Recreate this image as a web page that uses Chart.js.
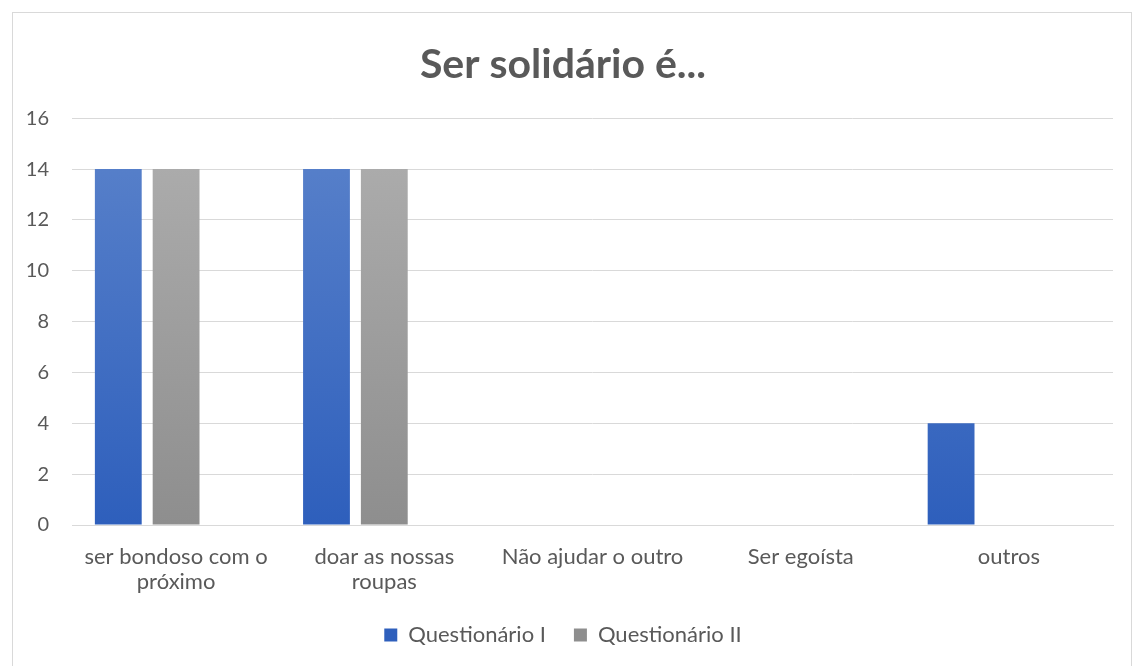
<!DOCTYPE html>
<html>
<head>
<meta charset="utf-8">
<script src="https://cdn.jsdelivr.net/npm/chart.js@4.4.1/dist/chart.umd.min.js"></script>
<style>
  html, body { margin: 0; padding: 0; background: #fff; }
  #wrap {
    position: absolute; left: 12px; top: 12px;
    width: 1118px; height: 660px;
    border: 1px solid #d9d9d9;
  }
</style>
</head>
<body>
<div id="wrap"><canvas id="myChart"></canvas></div>
<script>
var categories = [['ser bondoso com o', 'próximo'], ['doar as nossas', 'roupas'], 'Não ajudar o outro', 'Ser egoísta', 'outros'];
var questionario1 = [14, 14, 0, 0, 4];
var questionario2 = [14, 14, 0, 0, 0];
var emptySeries = [0, 0, 0, 0, 0];
var yTicks = [0, 2, 4, 6, 8, 10, 12, 14, 16];

// vertical gradient over the plot area, like the Excel fill
function gradient(top, bottom) {
    return function(context) {
        var area = context.chart.chartArea;
        if (!area) return bottom;
        var g = context.chart.ctx.createLinearGradient(0, area.top, 0, area.bottom);
        g.addColorStop(0, top);
        g.addColorStop(1, bottom);
        return g;
    };
}

var textColor = '#595959';
Chart.defaults.font.family = 'Lato, "Open Sans", sans-serif';

var ctx = document.getElementById('myChart').getContext('2d');
var chart = new Chart(ctx, {
    type: 'bar',
    data: {
        labels: categories,
        datasets: [{
            label: 'Questionário I',
            data: questionario1,
            backgroundColor: gradient('#5b83cb', '#2e5fbc'),
            categoryPercentage: 0.833,
            barPercentage: 0.81
        }, {
            label: 'Questionário II',
            data: questionario2,
            backgroundColor: gradient('#afafaf', '#8e8e8e'),
            categoryPercentage: 0.833,
            barPercentage: 0.81
        }, {
            label: '',
            data: emptySeries,
            backgroundColor: 'rgba(0,0,0,0)',
            categoryPercentage: 0.833,
            barPercentage: 0.81
        }]
    },
    options: {
        responsive: true,
        maintainAspectRatio: false,
        animation: false,
        layout: { padding: { left: 0, right: 18, top: 0, bottom: 17 } },
        plugins: {
            title: {
                display: true,
                text: 'Ser solidário é...',
                color: textColor,
                font: { size: 41, weight: 'bold' },
                padding: { top: 27, bottom: 29 }
            },
            legend: {
                position: 'bottom',
                labels: {
                    color: textColor,
                    font: { size: 22 },
                    boxWidth: 13,
                    boxHeight: 13,
                    padding: 28,
                    filter: function(item) { return item.text !== ''; }
                }
            },
            tooltip: { enabled: false }
        },
        scales: {
            x: {
                grid: { display: false, drawTicks: false },
                border: { display: true, color: '#d9d9d9', width: 1 },
                ticks: { color: textColor, font: { size: 22, lineHeight: 1.15 }, padding: 19, maxRotation: 0, autoSkip: false },
                afterFit: function(scale) { scale.height = 71; }
            },
            y: {
                min: 0,
                max: 16,
                afterBuildTicks: function(scale) {
                    scale.ticks = yTicks.map(function(v) { return { value: v }; });
                },
                grid: { color: '#d9d9d9', drawTicks: false },
                border: { display: false },
                ticks: { color: textColor, font: { size: 20 }, padding: 23 },
                afterFit: function(scale) { scale.width = 59; }
            }
        }
    }
});
</script>
</body>
</html>
